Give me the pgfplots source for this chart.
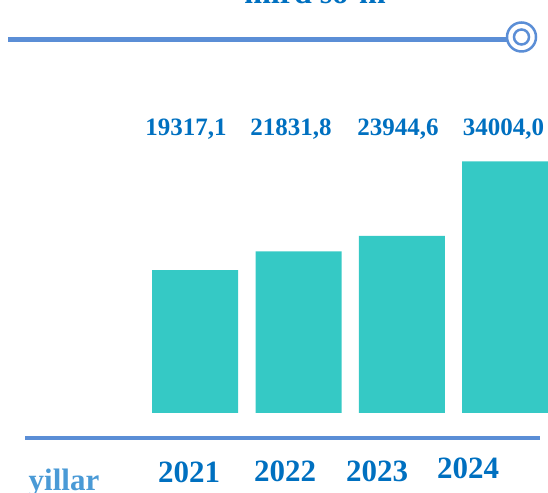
\documentclass[border=0pt]{standalone}
\usepackage{pgfplots}
\pgfplotsset{compat=1.18}
\usepackage{fontspec}
\setmainfont{Liberation Serif}
\definecolor{barc}{HTML}{35C9C5}
\definecolor{txtc}{HTML}{0070C0}
\definecolor{linec}{HTML}{5B8ED6}
\definecolor{yilc}{HTML}{4A9AD6}
\begin{document}
\begin{tikzpicture}
\path[use as bounding box] (0pt,0pt) rectangle (548pt,492pt);
\clip (0pt,0pt) rectangle (548pt,492pt);
% ---------- bars ----------
\begin{axis}[at={(0pt,79pt)},anchor=south west,
  scale only axis,width=548pt,height=296pt,
  xmin=-1.89,xmax=3.415,ymin=0,ymax=40000,
  axis lines=none,ybar,bar width=86pt,clip=false]
  \addplot[fill=barc,draw=none]
    coordinates {(0,19317.1)(1,21831.8)(2,23944.6)(3,34004.0)};
\end{axis}
\begin{scope}[x=1pt,y=1pt]
% ---------- lines ----------
\draw[linec,line width=5pt] (8,452) -- (507,452);
\draw[linec,line width=2.5pt,fill=white] (521.5,455) circle (14.5);
\draw[linec,line width=2.5pt] (521.5,455) circle (7.5);
\draw[linec,line width=4pt] (25,53.5) -- (540,53.5);
% ---------- texts ----------
\node[anchor=base,txtc,font=\bfseries\fontsize{32}{36}\selectfont] at (315,488) {mlrd so'm};
\begin{scope}[every node/.style={anchor=base,txtc,inner sep=0pt,font=\bfseries\fontsize{25}{30}\selectfont}]
  \node at (186,356) {19317,1};
  \node at (291,356) {21831,8};
  \node at (398,356) {23944,6};
  \node at (503.5,356) {34004,0};
\end{scope}
\begin{scope}[every node/.style={anchor=base,txtc,inner sep=0pt,font=\bfseries\fontsize{31}{36}\selectfont}]
  \node at (189,10) {2021};
  \node at (285,10.5) {2022};
  \node at (377,10.5) {2023};
  \node at (468,13) {2024};
\end{scope}
\node[anchor=base,yilc,inner sep=0pt,font=\bfseries\fontsize{31}{36}\selectfont] at (64,2) {yillar};
\end{scope}
\end{tikzpicture}
\end{document}
